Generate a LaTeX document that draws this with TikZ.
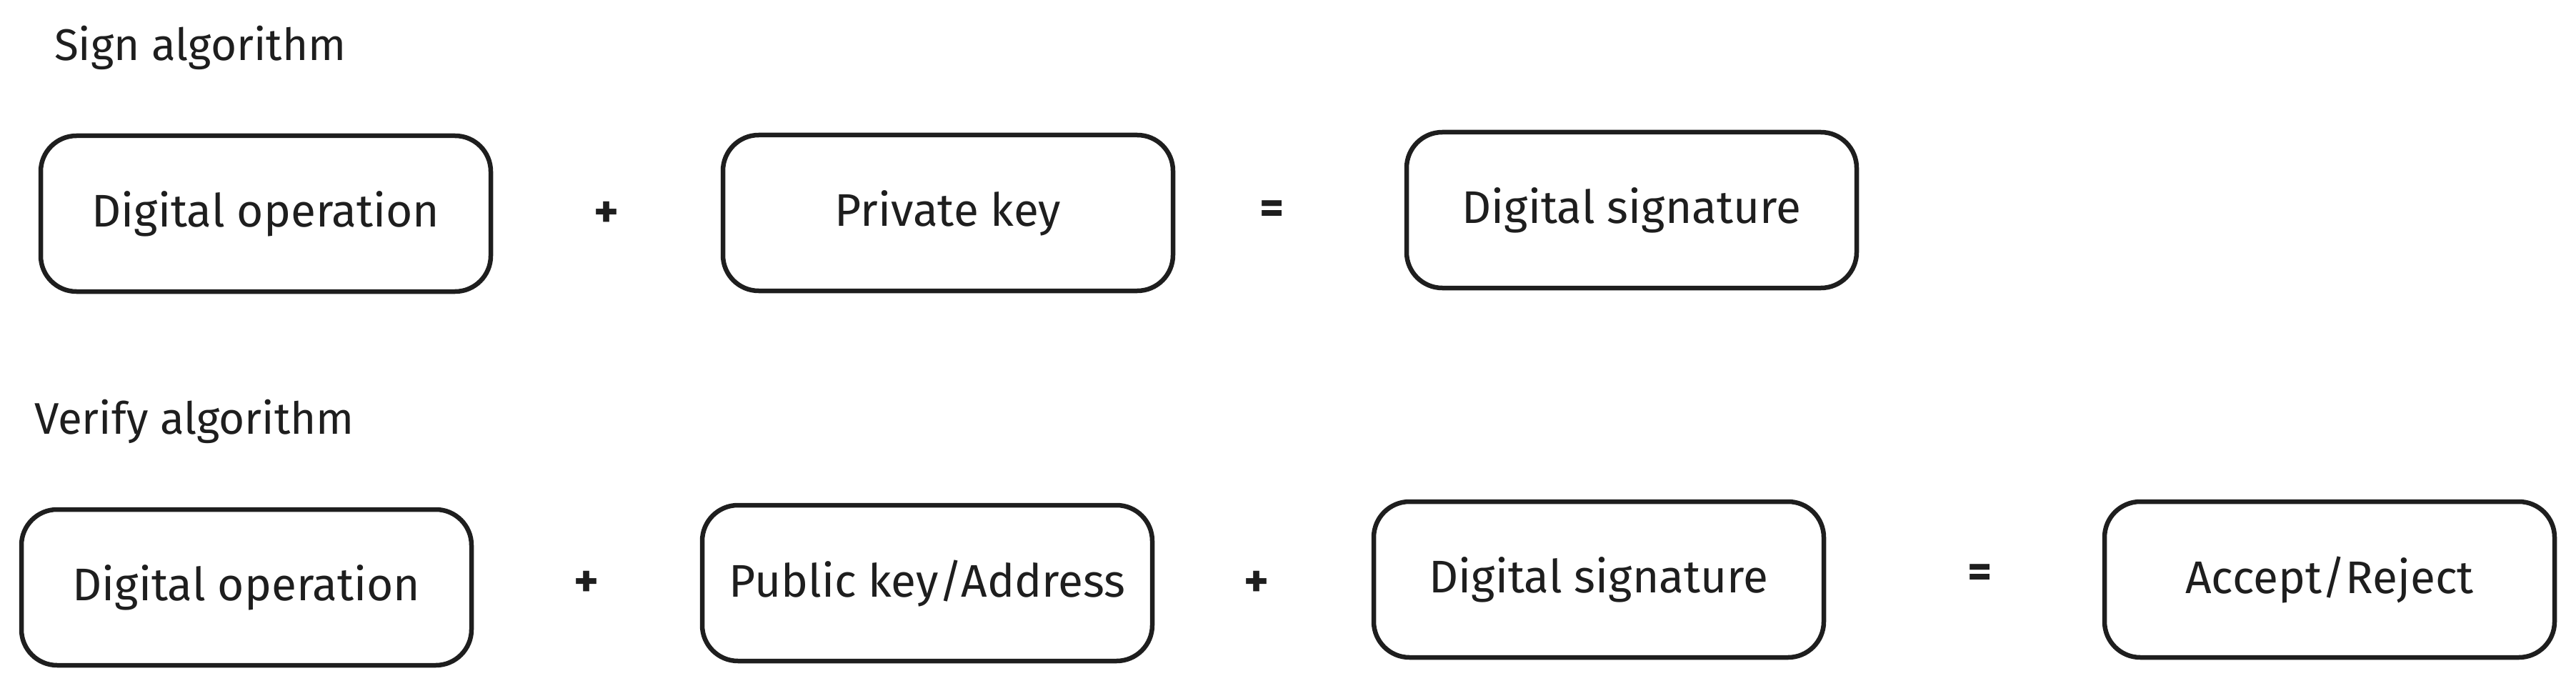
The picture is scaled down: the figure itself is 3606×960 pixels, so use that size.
\documentclass[tikz,border=0pt]{standalone}
\usepackage{fontspec}
\setmainfont{Fira Sans}
\definecolor{ink}{HTML}{1E1E1E}
\tikzset{
  sketchbox/.style={draw=ink, line width=6.5pt, rounded corners=50pt, minimum width=630pt, minimum height=218pt, text=ink, font=\fontsize{64}{70}\selectfont, inner sep=0pt},
  title/.style={anchor=west, text=ink, font=\fontsize{62}{68}\selectfont, inner sep=0pt},
  op/.style={text=ink, font=\fontsize{66}{70}\selectfont\bfseries, inner sep=0pt}
}
\begin{document}
\begin{tikzpicture}[x=1pt,y=-1pt]
\useasboundingbox (0,0) rectangle (3606,960);
% Sign algorithm
\node[title] (signt) at (76,67) {Sign algorithm};
\node[sketchbox] (a1) at (372,299) {Digital operation};
\node[op] (p1) at (849,300) {+};
\node[sketchbox] (a2) at (1327,298) {Private key};
\node[op] (e1) at (1781,297) {=};
\node[sketchbox] (a3) at (2284,294) {Digital signature};
% Verify algorithm
\node[title] (vert) at (48,590) {Verify algorithm};
\node[sketchbox] (b1) at (345,822) {Digital operation};
\node[op] (p2) at (821,817) {+};
\node[sketchbox] (b2) at (1298,816) {Public key/Address};
\node[op] (p3) at (1759,817) {+};
\node[sketchbox] (b3) at (2238,811) {Digital signature};
\node[op] (e2) at (2772,806) {=};
\node[sketchbox] (b4) at (3261,811) {Accept/Reject};
\end{tikzpicture}
\end{document}
